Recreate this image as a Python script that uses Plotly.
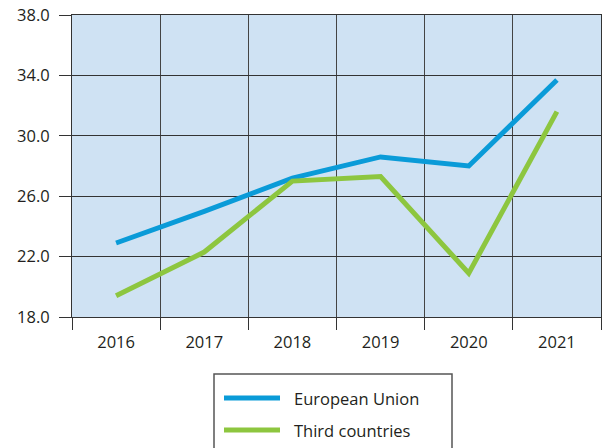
import plotly.graph_objects as go

years = ["2016", "2017", "2018", "2019", "2020", "2021"]
eu_values = [22.9, 25.0, 27.2, 28.6, 28.0, 33.7]
third_values = [19.4, 22.3, 27.0, 27.3, 20.9, 31.6]
series_names = ["European Union", "Third countries"]
series_colors = ["#0a9bd8", "#8dc63f"]
y_ticks = [18, 22, 26, 30, 34, 38]

W, H = 604, 448
L, T = 72, 15
R = W - 601
B = H - 317
pw, ph = W - L - R, H - T - B

def px_x(p):  # window pixel -> paper
    return (p - L) / pw

def px_y(p):
    return (H - B - p) / ph

fig = go.Figure()
for name, vals, col in zip(series_names, [eu_values, third_values], series_colors):
    fig.add_trace(go.Scatter(x=years, y=vals, mode="lines", name=name,
                             line=dict(color=col, width=5), showlegend=False))

font = dict(family="Open Sans, Noto Sans, sans-serif", size=16.5, color="#231f20")

fig.update_layout(
    width=W, height=H,
    margin=dict(l=L, r=R, t=T, b=B, pad=0, autoexpand=False),
    paper_bgcolor="white",
    plot_bgcolor="#cfe2f3",
    font=font,
    xaxis=dict(type="category", range=[-0.5, 5.5], tickson="boundaries",
               ticks="outside", ticklen=12, tickcolor="#333", tickwidth=1,
               showgrid=True, gridcolor="#444", gridwidth=1,
               showline=True, linecolor="#333", linewidth=1, mirror=True,
               zeroline=False, ticklabelstandoff=10, automargin=False),
    yaxis=dict(range=[18, 38], tickvals=y_ticks, tickformat=".1f",
               ticks="outside", ticklen=12, tickcolor="#333", tickwidth=1,
               showgrid=True, gridcolor="#333", gridwidth=1,
               showline=True, linecolor="#333", linewidth=1, mirror=True,
               zeroline=False, ticklabelstandoff=6, ticklabeloverflow="allow",
               automargin=False),
)

# custom legend box
shapes = [dict(type="rect", xref="paper", yref="paper",
               x0=px_x(214), x1=px_x(452), y0=px_y(470), y1=px_y(374),
               line=dict(color="#555", width=1.5), fillcolor="white", layer="above")]
annotations = []
for i, (name, col) in enumerate(zip(series_names, series_colors)):
    yy = 398 + i * 32
    shapes.append(dict(type="line", xref="paper", yref="paper",
                       x0=px_x(224), x1=px_x(280), y0=px_y(yy), y1=px_y(yy),
                       line=dict(color=col, width=5)))
    annotations.append(dict(xref="paper", yref="paper", x=px_x(292), y=px_y(yy),
                            text=name, showarrow=False, xanchor="left", yanchor="middle",
                            font=font))
fig.update_layout(shapes=shapes, annotations=annotations)

fig.write_html("out.html", config={"displayModeBar": False},
               post_script="document.body.style.margin='0';document.body.style.overflow='hidden';")
